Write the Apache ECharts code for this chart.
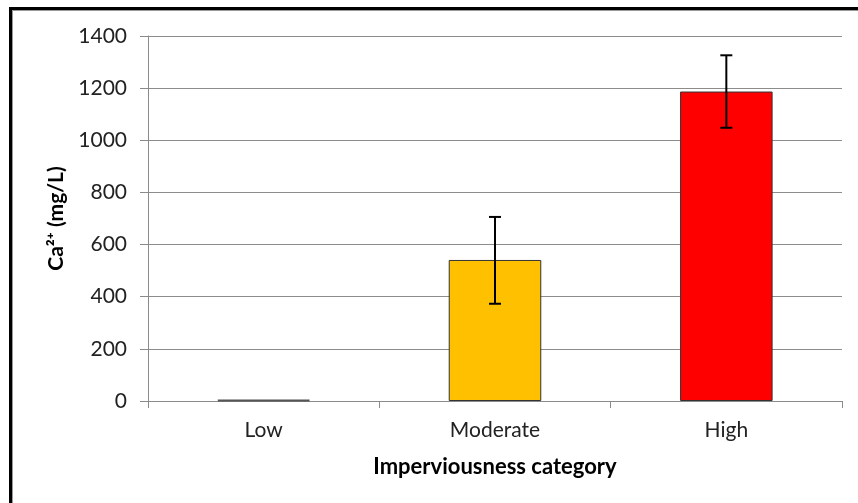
<!DOCTYPE html>
<html>
<head>
<meta charset="utf-8">
<script src="https://cdn.jsdelivr.net/npm/echarts@6/dist/echarts.min.js"></script>
<style>
    html, body { margin: 0; padding: 0; background: #fff; }
    #wrap { position: relative; width: 858px; height: 503px; overflow: hidden; }
    #frame {
        position: absolute; left: 9px; top: 7px; width: 900px; height: 600px;
        border-left: 3px solid #000; border-top: 3px solid #000;
        box-shadow: inset 1px 1px 0 #999;
    }
    #chart { position: absolute; left: 0; top: 0; width: 858px; height: 503px; }
</style>
</head>
<body>
<div id="wrap">
    <div id="frame"></div>
    <div id="chart"></div>
</div>
<script>
    // 数据
    var categories = ['Low', 'Moderate', 'High'];
    var meanValues = [3, 541, 1187];
    var errorMinus = [0, 168, 139];
    var errorPlus = [0, 165, 139];
    var barColors = ['#00b050', '#ffc000', '#ff0000'];
    var yTicks = [0, 200, 400, 600, 800, 1000, 1200, 1400];

    var font = 'Lato, "DejaVu Sans", sans-serif';

    var barData = [];
    var errData = [];
    for (var i = 0; i < categories.length; i++) {
        barData.push({
            value: meanValues[i],
            itemStyle: { color: barColors[i], borderColor: i === 0 ? '#555' : '#333', borderWidth: i === 0 ? 2 : 1 }
        });
        if (errorMinus[i] > 0 || errorPlus[i] > 0) {
            errData.push([i, meanValues[i] - errorMinus[i], meanValues[i] + errorPlus[i]]);
        }
    }

    var myChart = echarts.init(document.getElementById('chart'));
    var myOption = {
        animation: false,
        grid: { left: 148, right: 16, top: 36, bottom: 102 },
        xAxis: {
            type: 'category',
            data: categories,
            name: 'Imperviousness category',
            nameLocation: 'middle',
            nameGap: 55,
            nameTextStyle: { fontFamily: font, fontSize: 22, fontWeight: 'bold', color: '#000' },
            axisLine: { lineStyle: { color: '#8a8a8a', width: 1 } },
            axisTick: { show: true, length: 7, alignWithLabel: false, lineStyle: { color: '#8a8a8a' } },
            axisLabel: { fontFamily: font, fontSize: 21, color: '#222', margin: 19 },
            splitLine: { show: false }
        },
        yAxis: {
            type: 'value',
            min: yTicks[0],
            max: yTicks[yTicks.length - 1],
            interval: 200,
            name: 'Ca²⁺ (mg/L)',
            nameLocation: 'middle',
            nameGap: 81,
            nameRotate: 90,
            nameTextStyle: { fontFamily: font, fontSize: 21, fontWeight: 'bold', color: '#000' },
            axisLine: { show: true, lineStyle: { color: '#8a8a8a', width: 1 } },
            axisTick: { show: true, length: 8, lineStyle: { color: '#8a8a8a' } },
            axisLabel: {
                fontFamily: font, fontSize: 21, color: '#222', margin: 21,
                formatter: function (v) { return String(v); }
            },
            splitLine: { show: true, lineStyle: { color: '#8c8c8c', width: 1 } }
        },
        series: [
            {
                type: 'bar',
                barWidth: '40%',
                data: barData
            },
            {
                type: 'custom',
                data: errData,
                z: 10,
                renderItem: function (params, api) {
                    var x = api.value(0);
                    var lo = api.coord([x, api.value(1)]);
                    var hi = api.coord([x, api.value(2)]);
                    var cap = 6;
                    var style = { stroke: '#000', lineWidth: 2 };
                    return {
                        type: 'group',
                        children: [
                            { type: 'line', shape: { x1: hi[0], y1: hi[1], x2: lo[0], y2: lo[1] }, style: style },
                            { type: 'line', shape: { x1: hi[0] - cap, y1: hi[1], x2: hi[0] + cap, y2: hi[1] }, style: style },
                            { type: 'line', shape: { x1: lo[0] - cap, y1: lo[1], x2: lo[0] + cap, y2: lo[1] }, style: style }
                        ]
                    };
                }
            }
        ]
    };
    myChart.setOption(myOption);
</script>
</body>
</html>
